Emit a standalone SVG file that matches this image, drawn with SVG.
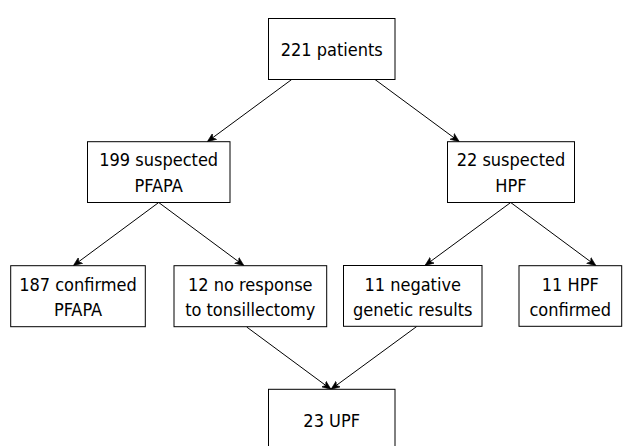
<svg xmlns="http://www.w3.org/2000/svg" width="623" height="446" viewBox="0 0 623 446">
  <defs>
    <style>
      .box { fill: #ffffff; stroke: #000000; stroke-width: 1; }
      .lbl { font-family: "DejaVu Sans Condensed", "DejaVu Sans", sans-serif; font-size: 18px; fill: #000000; text-anchor: middle; }
      .edge { fill: none; stroke: #000000; stroke-width: 1; marker-end: url(#arrow); }
    </style>
    <marker id="arrow" markerUnits="userSpaceOnUse" markerWidth="10" markerHeight="8" refX="9" refY="4" orient="auto" viewBox="0 0 10 8">
      <path d="M0,0.4 L9,4 L0,7.6 L2.5,4 Z" fill="#000000" stroke="#000000" stroke-width="0.6"/>
    </marker>
  </defs>
  <rect width="623" height="446" fill="#ffffff"/>

  <g id="connectors">
    <line class="edge" x1="291.7" y1="79.5" x2="207.3" y2="141.7"/>
    <line class="edge" x1="375" y1="79.5" x2="459.3" y2="141.7"/>
    <line class="edge" x1="158.7" y1="202.5" x2="73.3" y2="265.7"/>
    <line class="edge" x1="158.7" y1="202.5" x2="244" y2="265.7"/>
    <line class="edge" x1="510.7" y1="202.5" x2="425" y2="265.5"/>
    <line class="edge" x1="510.7" y1="202.5" x2="596" y2="265.7"/>
    <line class="edge" x1="246.7" y1="327" x2="331" y2="389.3"/>
    <line class="edge" x1="416.7" y1="326.5" x2="331" y2="389.3"/>
  </g>

  <g id="n-patients">
    <rect class="box" x="268.5" y="18.5" width="126.5" height="61"/>
    <text class="lbl" x="331.7" y="56.3">221 patients</text>
  </g>
  <g id="n-suspected-pfapa">
    <rect class="box" x="87.5" y="141.7" width="142.5" height="60.8"/>
    <text class="lbl" x="158.7" y="166">199 suspected</text>
    <text class="lbl" x="158.7" y="191.7">PFAPA</text>
  </g>
  <g id="n-suspected-hpf">
    <rect class="box" x="447.5" y="141.7" width="127" height="60.8"/>
    <text class="lbl" x="511" y="166">22 suspected</text>
    <text class="lbl" x="511" y="191.7">HPF</text>
  </g>
  <g id="n-confirmed-pfapa">
    <rect class="box" x="10.7" y="265.7" width="134.6" height="61"/>
    <text class="lbl" x="78" y="290.7">187 confirmed</text>
    <text class="lbl" x="78" y="315.7">PFAPA</text>
  </g>
  <g id="n-no-response">
    <rect class="box" x="174" y="265.7" width="152.7" height="61"/>
    <text class="lbl" x="250.3" y="290.7">12 no response</text>
    <text class="lbl" x="250.3" y="315.7">to tonsillectomy</text>
  </g>
  <g id="n-negative-genetic">
    <rect class="box" x="343.5" y="265.5" width="138.5" height="60.8"/>
    <text class="lbl" x="412.7" y="290.7">11 negative</text>
    <text class="lbl" x="412.7" y="315.7">genetic results</text>
  </g>
  <g id="n-hpf-confirmed">
    <rect class="box" x="519" y="265.7" width="102.7" height="60.6"/>
    <text class="lbl" x="570.3" y="290.7">11 HPF</text>
    <text class="lbl" x="570.3" y="315.7">confirmed</text>
  </g>
  <g id="n-upf">
    <rect class="box" x="268.5" y="389.3" width="126.5" height="61"/>
    <text class="lbl" x="331.7" y="426.5">23 UPF</text>
  </g>
</svg>
